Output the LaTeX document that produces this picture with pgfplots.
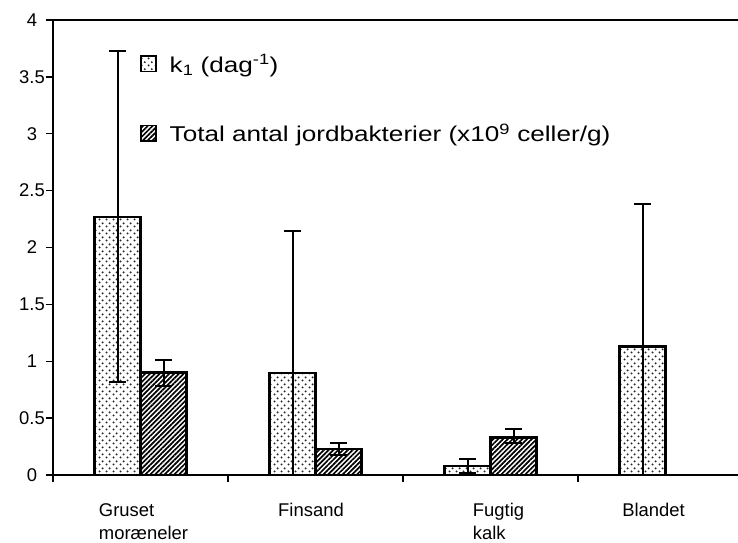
\documentclass[border=0pt]{standalone}
\usepackage{pgfplots}
\pgfplotsset{compat=1.18}
\usepackage{fontspec}
\setmainfont{Liberation Sans}
\newfontfamily\legfont[FakeStretch=1.22]{Liberation Sans}
\usetikzlibrary{patterns,patterns.meta}

\tikzdeclarepattern{
  name=sdots, type=uncolored,
  bounding box={(0,0) and (7bp,7bp)},
  tile size={(7bp,7bp)},
  code={\fill (1.75bp,1.75bp) circle (1.2bp); \fill (5.25bp,5.25bp) circle (1.2bp);}
}

\pgfplotstableread{
x y e
0 2.27  1.455
1 0.895 1.25
2 0.08  0.06
3 1.13  1.25
}\kone
\pgfplotstableread{
x y ep em
0 0.90 0.115 0.115
1 0.23 0.055 0.05
2 0.33 0.075 0.05
}\bakt

\newcommand{\cat}[1]{\begin{tabular}{@{}l@{}}#1\end{tabular}}

\begin{document}
\begin{tikzpicture}
\useasboundingbox (-53bp,-68bp) rectangle (685bp,475bp);
\begin{axis}[
  at={(0,0)}, anchor=south west,
  scale only axis, width=685bp, height=455bp,
  xmin=-0.5, xmax=3.414, ymin=0, ymax=4,
  axis x line*=bottom, axis y line*=left,
  axis line style={line width=1.5bp, black},
  tick style={line width=1.4bp, black},
  tick align=outside,
  ytick={0,0.5,1,1.5,2,2.5,3,3.5},
  extra y ticks={4},
  extra y tick style={grid=major, major grid style={black, line width=1.5bp}},
  major tick length=7bp,
  /pgf/number format/assume math mode=true,
  ticklabel style={font=\fontsize{18.5}{23}\selectfont},
  yticklabel style={anchor=center, xshift=-14bp},
  xtick={-0.5,0.5,1.5,2.5},
  xticklabels={},
  extra x ticks={0,1,2,3},
  extra x tick labels={{\hspace*{6bp}\cat{Gruset\\moræneler}},{\hspace*{-9bp}\cat{Finsand}},{\hspace*{16bp}\cat{Fugtig\\kalk}},{\hspace*{-24bp}\cat{Blandet}}},
  extra x tick style={major tick length=0pt, xticklabel style={anchor=north, yshift=-22bp}},
  ybar=0pt, bar width=46bp,
  legend style={at={(0.127,0.929)}, anchor=north west, draw=none, fill=none,
    font=\legfont\fontsize{21.5}{26}\selectfont, row sep=46bp, inner sep=0pt,
    /tikz/every odd column/.append style={column sep=11bp}},
  legend cell align=left,
  legend image code/.code={\draw[#1, line width=1.5bp] (0bp,-7.5bp) rectangle (15bp,8bp);},
]
\addplot+[draw=black, line width=2.4bp, pattern=sdots, pattern color=black!85,
  error bars/.cd, y dir=both, y explicit,
  error bar style={line width=2bp, black},
  error mark options={rotate=90, mark size=8.5bp, line width=2bp, black}]
  table[x=x, y=y, y error=e] {\kone};
\addplot+[draw=black, line width=2.4bp, pattern={Lines[angle=45, distance=3.4bp, line width=1.7bp]}, pattern color=black,
  error bars/.cd, y dir=both, y explicit,
  error bar style={line width=2bp, black},
  error mark options={rotate=90, mark size=8.5bp, line width=2bp, black}]
  table[x=x, y=y, y error plus=ep, y error minus=em] {\bakt};
\legend{k\textsubscript{1} (dag\textsuperscript{-1}), Total antal jordbakterier (x10\textsuperscript{9} celler/g)}
\end{axis}
\end{tikzpicture}
\end{document}
